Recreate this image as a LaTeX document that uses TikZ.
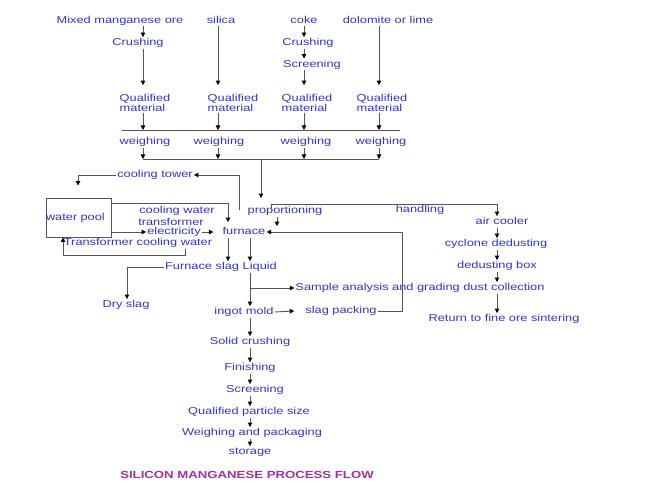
\documentclass[tikz,border=0pt]{standalone}
\usepackage{fontspec}
\setmainfont[FakeStretch=1.28]{Liberation Sans}
\usetikzlibrary{arrows.meta,calc}
\definecolor{txtblue}{RGB}{51,51,204}
\definecolor{lnc}{RGB}{85,85,85}
\definecolor{ttl}{RGB}{160,50,160}
\begin{document}
\begin{tikzpicture}[x=1pt,y=-1pt,
 lbl/.style={inner sep=1pt, text=txtblue, font=\fontsize{10}{10}\selectfont, text height=7.5pt, text depth=2pt},
 lbltwo/.style={inner sep=1pt, text=txtblue, font=\fontsize{10}{10}\selectfont, align=left},
 conn/.style={draw=lnc, line width=0.9pt},
 arr/.style={conn, -{Triangle[length=4.5pt,width=4.5pt,color=black]}},
]
\fill[white] (0,0) rectangle (648,500);
\useasboundingbox (0,0) rectangle (648,500);

% top row
\node[lbl] (mix) at (120,20.5) {Mixed manganese ore};
\node[lbl] (sil) at (221,20.5) {silica};
\node[lbl] (coke) at (304,20.5) {coke};
\node[lbl] (dol) at (388,20.5) {dolomite or lime};
\node[lbl] (cr1) at (138,43) {Crushing};
\node[lbl] (cr3) at (308,43) {Crushing};
\node[lbl] (scr3) at (312,64.5) {Screening};
\node[lbltwo] (q1) at (145,103) {Qualified\\material};
\node[lbltwo] (q2) at (233,103) {Qualified\\material};
\node[lbltwo] (q3) at (307,103) {Qualified\\material};
\node[lbltwo] (q4) at (382,103) {Qualified\\material};
\node[lbl] (w1) at (145,142) {weighing};
\node[lbl] (w2) at (219,142) {weighing};
\node[lbl] (w3) at (306,142) {weighing};
\node[lbl] (w4) at (381,142) {weighing};

\coordinate (c1) at (143,0);
\coordinate (c2) at (218,0);
\coordinate (c3) at (304,0);
\coordinate (c4) at (379,0);
\coordinate (b1l) at (122,130);
\coordinate (b1r) at (400,130);
\coordinate (b2l) at (143,159);
\coordinate (b2r) at (379,159);
\coordinate (b2m) at (261,159);

\draw[arr] (mix.south -| c1) -- (cr1.north -| c1);
\draw[arr] (cr1.south -| c1) -- ($(q1.north -| c1)+(0,-8)$);
\draw[arr] (sil.south -| c2) -- ($(q2.north -| c2)+(0,-8)$);
\draw[arr] (coke.south -| c3) -- (cr3.north -| c3);
\draw[arr] (cr3.south -| c3) -- (scr3.north -| c3);
\draw[arr] (scr3.south -| c3) -- ($(q3.north -| c3)+(0,-8)$);
\draw[arr] (dol.south -| c4) -- ($(q4.north -| c4)+(0,-8)$);
\draw[arr] (q1.south -| c1) -- (c1 |- b1l);
\draw[arr] (q2.south -| c2) -- (c2 |- b1l);
\draw[arr] (q3.south -| c3) -- (c3 |- b1l);
\draw[arr] (q4.south -| c4) -- (c4 |- b1l);
\draw[conn] (b1l) -- (b1r);
\draw[arr] (w1.south -| c1) -- (c1 |- b2l);
\draw[arr] (w2.south -| c2) -- (c2 |- b2l);
\draw[arr] (w3.south -| c3) -- (c3 |- b2l);
\draw[arr] (w4.south -| c4) -- (c4 |- b2l);
\draw[conn] (b2l) -- (b2r);

% middle
\node[lbl] (prop) at (285,211) {proportioning};
\node[lbl] (hand) at (420,210) {handling};
\node[lbl] (ct) at (155,175) {cooling tower};
\node[draw=lnc, line width=0.9pt, minimum width=65pt, minimum height=39pt, inner sep=0pt,
      text width=65pt, align=left, text=txtblue, font=\fontsize{10}{10}\selectfont] (pool) at (78.5,217.5) {water pool};
\node[lbl] (cw) at (177,211) {cooling water};
\node[lbl] (tr) at (171,223) {transformer};
\node[lbl] (el) at (174,232) {electricity};
\node[lbl] (fur) at (244,232) {furnace};
\node[lbl] (tcw) at (138,243) {Transformer cooling water};
\node[lbl] (fsl) at (221,267) {Furnace slag Liquid};
\node[lbl] (dry) at (126,305) {Dry slag};
\node[lbl] (sample) at (420,288) {Sample analysis and grading dust collection};
\node[lbl] (ingot) at (244,312) {ingot mold};
\node[lbl] (slag) at (341,311) {slag packing};
\node[lbl] (air) at (502,222) {air cooler};
\node[lbl] (cyc) at (496,244) {cyclone dedusting};
\node[lbl] (dbox) at (497,266) {dedusting box};
\node[lbl] (ret) at (504,319) {Return to fine ore sintering};
\node[lbl] (solid) at (250,342) {Solid crushing};
\node[lbl] (fin) at (250,368) {Finishing};
\node[lbl] (scr) at (255,390) {Screening};
\node[lbl] (qps) at (249,412) {Qualified particle size};
\node[lbl] (wp) at (252,433) {Weighing and packaging};
\node[lbl] (sto) at (250,452) {storage};
\node[inner sep=1pt, text=ttl, font=\fontsize{10.3}{10}\selectfont\bfseries] (title) at (247,475) {SILICON MANGANESE PROCESS FLOW};

\draw[arr] (b2m) -- ($(prop.north -| b2m)+(0,-7)$);

\coordinate (ctsrc) at (239,210);
\coordinate (ctx) at (78,0);
\draw[arr] (ctsrc) -- (ctsrc |- ct) -- (ct.east);
\draw[arr] (ct.west) -- (ct.west -| ctx) -- ($(pool.north -| ctx)+(0,-12)$);

\coordinate (cwa) at ($(pool.north east)+(0,6)$);
\coordinate (cwx) at (228,0);
\draw[arr] (cwa) -- (cwa -| cwx) -- ($(fur.north -| cwx)+(0,-4)$);
\draw[arr] (pool.east |- el) -- (el.west);
\draw[arr] (el.east) -- ($(fur.west)+(-8,0)$);

\coordinate (tcx) at (185,255);
\coordinate (tcy) at (63,255);
\draw[arr] (tcw.south -| tcx) -- (tcx) -- (tcy) -- (pool.south -| tcy);

\coordinate (fa) at (228,0);
\coordinate (fb) at (250,0);
\draw[arr] (fur.south -| fa) -- (fsl.north -| fa);
\draw[arr] (fur.south -| fb) -- (fsl.north -| fb);
\coordinate (dx) at (127,0);
\draw[arr] (fsl.west) -- (fsl.west -| dx) -- (dry.north -| dx);
\draw[arr] (fsl.south -| fb) -- (ingot.north -| fb);
\draw[arr] (sample.west -| fb) -- (sample.west);
\draw[arr] (ingot.east) -- ($(slag.west)+(-10,0)$);
\coordinate (lx) at (402,0);
\draw[arr] (slag.east) -- (slag.east -| lx) -- (fur.east -| lx) -- (fur.east);

\coordinate (px) at (277,0);
\draw[arr] (prop.south -| px) -- (fur.north -| px);
\coordinate (ps) at (271,208);
\coordinate (pt) at (271,204);
\coordinate (hx) at (497,204);
\draw[arr] (ps) -- (pt) -- (hx) -- (air.north -| hx);
\draw[arr] (air.south -| hx) -- (cyc.north -| hx);
\draw[arr] (cyc.south -| hx) -- (dbox.north -| hx);
\draw[arr] (dbox.south -| hx) -- (sample.north -| hx);
\draw[arr] (sample.south -| hx) -- (ret.north -| hx);

\draw[arr] (ingot.south -| fb) -- (solid.north -| fb);
\draw[arr] (solid.south -| fb) -- (fin.north -| fb);
\draw[arr] (fin.south -| fb) -- (scr.north -| fb);
\draw[arr] (scr.south -| fb) -- (qps.north -| fb);
\draw[arr] (qps.south -| fb) -- (wp.north -| fb);
\draw[arr] (wp.south -| fb) -- (sto.north -| fb);
\end{tikzpicture}
\end{document}
